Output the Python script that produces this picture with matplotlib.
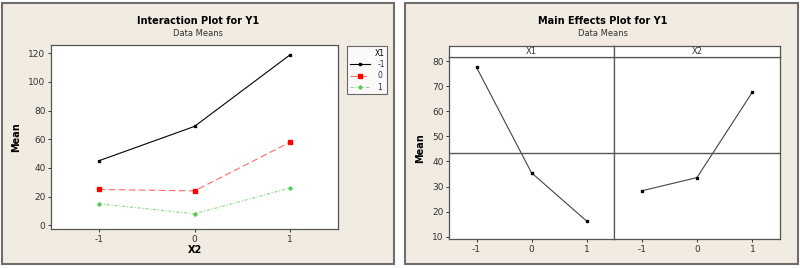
import matplotlib.pyplot as plt
from matplotlib.patches import Rectangle

plt.rcParams['axes.unicode_minus'] = False

# Interaction plot data (X2 levels on x, one line per X1 level)
x2_levels = [-1, 0, 1]
x1_labels = ['-1', '0', '1']
mean_x1_m1 = [45, 69, 119]
mean_x1_0 = [25, 24, 58]
mean_x1_p1 = [15, 8, 26]

# Main effects data
levels = [-1, 0, 1]
main_x1 = [77.5, 35.5, 16.3]
main_x2 = [28.3, 33.6, 67.6]
grand_mean = 43.2

W, H = 800, 268
BG = '#f1ebe1'
EDGE = '#6e6e6e'


def box(l, t, r, b):
    # pixel box (left, top, right, bottom) -> figure fraction rect
    return [l / W, 1 - b / H, (r - l) / W, (b - t) / H]


def style(ax):
    for s in ax.spines.values():
        s.set_color('#555555')
        s.set_linewidth(0.9)
    ax.tick_params(labelsize=6.5, length=2.5, width=0.7, colors='#333333',
                   pad=1.5)


fig = plt.figure(figsize=(8, 2.68), dpi=100)
fig.patch.set_facecolor('white')

# panel backgrounds
for l, r in [(2, 394), (405, 798)]:
    fig.patches.append(Rectangle((l / W, 4 / H), (r - l) / W, 261 / H,
                                 transform=fig.transFigure, facecolor=BG,
                                 edgecolor=EDGE, linewidth=1.5, zorder=-10))

# ---------------- Interaction plot ----------------
ax = fig.add_axes(box(51, 45, 338, 229))
ax.plot(x2_levels, mean_x1_m1, color='black', lw=0.8, marker='s', ms=1.8,
        label=x1_labels[0])
ax.plot(x2_levels, mean_x1_0, color='#ff6b6b', lw=0.8, ls=(0, (6, 3)),
        marker='s', ms=2.4, mfc='red', mec='red', label=x1_labels[1])
ax.plot(x2_levels, mean_x1_p1, color='#8fd98f', lw=0.8, ls=(0, (3, 1.5, 1, 1.5)),
        marker='D', ms=1.8, mfc='#55cc55', mec='#55cc55', label=x1_labels[2])
ax.set_xlim(-1.5, 1.5)
ax.set_ylim(-2.6, 125.8)
ax.set_xticks(x2_levels)
ax.set_yticks([0, 20, 40, 60, 80, 100, 120])
ax.set_xlabel('X2', fontsize=7, fontweight='bold', labelpad=1)
ax.set_ylabel('Mean', fontsize=7, fontweight='bold', labelpad=5)
style(ax)
leg = ax.legend(title='X1', loc='upper left',
                bbox_to_anchor=(347 / W, 1 - 46 / H), bbox_transform=fig.transFigure,
                fontsize=5.5, title_fontsize=5.5, frameon=True, fancybox=False,
                handlelength=2.7, handletextpad=0.9, borderpad=0.35,
                labelspacing=0.3, alignment='right', numpoints=1,
                borderaxespad=0)
leg.get_frame().set_edgecolor('#444444')
leg.get_frame().set_linewidth(0.8)
for t in leg.get_texts():
    t.set_color('#223355')

fig.text(198 / W, 1 - 21 / H, 'Interaction Plot for Y1', ha='center',
         va='center', fontsize=7, fontweight='bold')
fig.text(198 / W, 1 - 33 / H, 'Data Means', ha='center', va='center',
         fontsize=6, color='#333333')

# ---------------- Main effects plot ----------------
ax1 = fig.add_axes(box(449, 57.3, 614, 239.3))
ax2 = fig.add_axes(box(614, 57.3, 780, 239.3), sharey=ax1)
for a, vals, name in [(ax1, main_x1, 'X1'), (ax2, main_x2, 'X2')]:
    a.plot(levels, vals, color='#444444', lw=0.8, marker='s', ms=1.8,
           mfc='black', mec='black')
    a.axhline(grand_mean, color='#555555', lw=1.0)
    a.set_xlim(-1.5, 1.5)
    a.set_xticks(levels)
    style(a)
    # strip with factor name
    pos = a.get_position()
    sa = fig.add_axes([pos.x0, 1 - 57.3 / H, pos.width, 11.6 / H])
    sa.set_xticks([])
    sa.set_yticks([])
    for s in sa.spines.values():
        s.set_color('#555555')
        s.set_linewidth(0.9)
    sa.text(0.5, 0.5, name, ha='center', va='center', fontsize=6,
            color='#333333', transform=sa.transAxes)
ax1.set_ylim(9, 81.5)
ax1.set_yticks([10, 20, 30, 40, 50, 60, 70, 80])
ax2.tick_params(left=False, labelleft=False)
ax1.set_ylabel('Mean', fontsize=7, fontweight='bold', labelpad=5)

fig.text(603 / W, 1 - 21 / H, 'Main Effects Plot for Y1', ha='center',
         va='center', fontsize=7, fontweight='bold')
fig.text(603 / W, 1 - 33 / H, 'Data Means', ha='center', va='center',
         fontsize=6, color='#333333')

fig.savefig('out.png', dpi=100, facecolor=fig.get_facecolor())
